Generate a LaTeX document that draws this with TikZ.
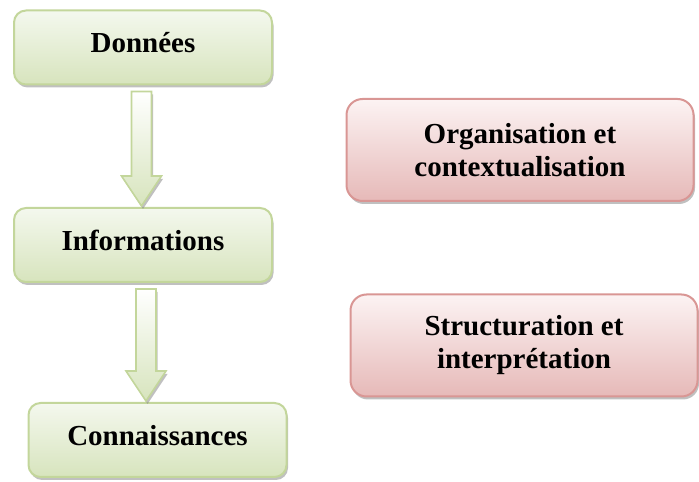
\documentclass[tikz,border=0pt]{standalone}
\usepackage{fontspec}
\setmainfont{Liberation Serif}
\usetikzlibrary{calc,shadows}
\definecolor{olive}{HTML}{C3D69B}
\definecolor{olivetop}{HTML}{F4F8EE}
\definecolor{olivebot}{HTML}{D7E4BD}
\definecolor{rose}{HTML}{D99694}
\definecolor{rosetop}{HTML}{FCF3F3}
\definecolor{rosebot}{HTML}{E6B9B8}
\tikzset{
  boxshadow/.style={drop shadow={shadow xshift=1.5pt, shadow yshift=-3pt, fill=black!45, opacity=0.55}},
  lbl/.style={font=\fontsize{29}{33}\selectfont\bfseries},
  greenbox/.style={draw=olive, line width=2pt, rounded corners=12pt,
    top color=olivetop, bottom color=olivebot, boxshadow, lbl,
    text depth=10pt, minimum width=258pt, minimum height=74pt},
  redbox/.style={draw=rose, line width=2pt, rounded corners=16pt,
    top color=rosetop, bottom color=rosebot, boxshadow, lbl,
    align=center, minimum width=347pt, minimum height=102pt},
  fatarrow/.style={draw=olive, line width=1.6pt, line join=miter,
    top color=white, bottom color=olivebot, boxshadow}
}
% big block arrow from one box down to the next
\newcommand\blockarrow[3]{%
  \path[fatarrow] let \p1=(#1.south), \p2=(#2.north) in
    (\x1+#3-10,\y1-6) -- (\x1+#3+10,\y1-6) -- (\x1+#3+10,\y2+31)
    -- (\x1+#3+20,\y2+31) -- (\x1+#3,\y2+1) -- (\x1+#3-20,\y2+31)
    -- (\x1+#3-10,\y2+31) -- cycle;}

\begin{document}
\begin{tikzpicture}[x=1pt,y=1pt]
  \useasboundingbox (0,0) rectangle (699,482);

  % left column
  \node[greenbox] (donnees) at (143,434.5) {Données};
  \node[greenbox] (infos) at (143,237) {Informations};
  \node[greenbox] (conn) at (157.5,42) {Connaissances};

  \blockarrow{donnees}{infos}{-1.5}
  \blockarrow{infos}{conn}{3}

  % right column
  \node[redbox] (orga) at (520,332) {Organisation et\\contextualisation};
  \node[redbox] (struct) at (524,136.5) {Structuration et\\interprétation};
\end{tikzpicture}
\end{document}
